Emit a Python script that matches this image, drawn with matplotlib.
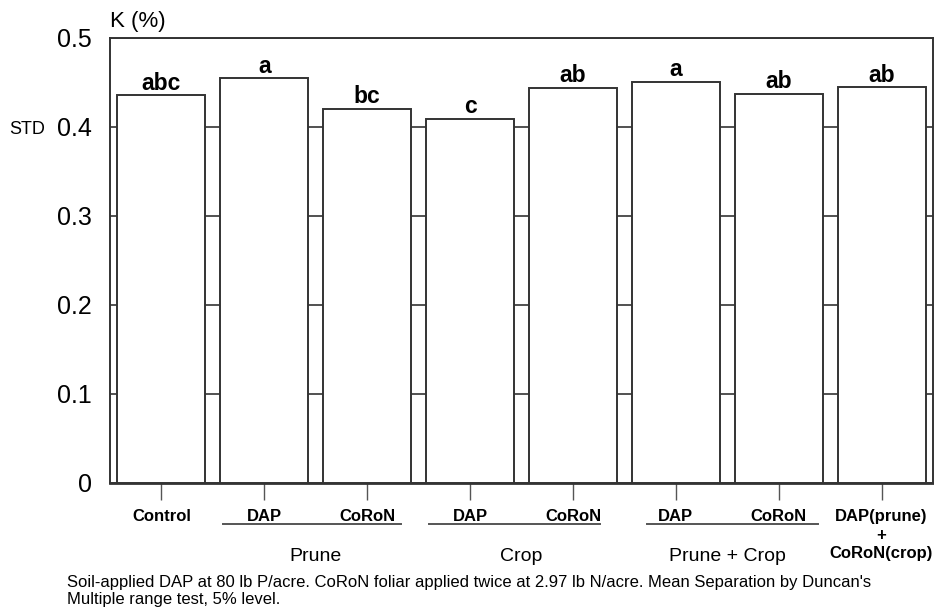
import matplotlib
matplotlib.use("Agg")
import matplotlib.pyplot as plt
from matplotlib.transforms import blended_transform_factory

plt.rcParams['font.family'] = ['Liberation Sans', 'DejaVu Sans']

# Treatment data: leaf potassium, %
tick_labels = ["Control", "DAP", "CoRoN", "DAP", "CoRoN", "DAP", "CoRoN",
               "DAP(prune)\n+\nCoRoN(crop)"]
k_values = [0.435, 0.454, 0.420, 0.409, 0.443, 0.450, 0.437, 0.444]
letters = ["abc", "a", "bc", "c", "ab", "a", "ab", "ab"]
group_names = ["Prune", "Crop", "Prune + Crop"]
group_members = [(1, 2), (3, 4), (5, 6)]
y_ticks = [0, 0.1, 0.2, 0.3, 0.4, 0.5]
y_tick_labels = ["0", "0.1", "0.2", "0.3", "0.4", "0.5"]
footnote_lines = [
    "Soil-applied DAP at 80 lb P/acre. CoRoN foliar applied twice at 2.97 lb N/acre. "
    "Mean Separation by Duncan's",
    "Multiple range test, 5% level.",
]

W, H = 934, 613
fig = plt.figure(figsize=(W / 100, H / 100), dpi=100)
ax = fig.add_axes([110 / W, (H - 483) / H, (933 - 110) / W, (483 - 37.5) / H])

edge = "#333333"
x = list(range(len(k_values)))
ax.bar(x, k_values, width=0.855, color="white", edgecolor=edge, linewidth=1.4, zorder=3)

ax.set_xlim(-0.5, len(k_values) - 0.5)
ax.set_ylim(0, 0.5)
ax.set_yticks(y_ticks)
ax.set_yticklabels(y_tick_labels, fontsize=18)
ax.tick_params(axis="y", length=0, pad=13)
ax.yaxis.grid(True, color=edge, linewidth=1.2, zorder=1)
ax.set_axisbelow(True)

ax.set_xticks(x)
ax.set_xticklabels([""] * len(x))
ax.tick_params(axis="x", direction="out", length=12, width=1, color="#555555")

for s in ax.spines.values():
    s.set_color(edge)
    s.set_linewidth(1.4)
ax.spines["bottom"].set_linewidth(2)

# significance letters above bars
for xi, v, lt in zip(x, k_values, letters):
    ax.text(xi, v + 0.001, lt, ha="center", va="bottom", fontsize=16.5,
            fontweight="bold")

blend = blended_transform_factory(ax.transData, fig.transFigure)
fy = lambda py: 1 - py / H

# treatment labels beneath the axis
for xi, lab in zip(x, tick_labels):
    parts = lab.split("\n")
    baselines = [521, 540, 558][:len(parts)]
    for part, py in zip(parts, baselines):
        ax.text(xi, fy(py), part, transform=blend, ha="center", va="baseline",
                fontsize=12, fontweight="bold")

# group underlines and names
underline_ext = [(0.40, 0.33), (0.40, 0.26), (0.28, 0.38)]
for name, (a, b), (l, r) in zip(group_names, group_members, underline_ext):
    ax.plot([a - l, b + r], [fy(523.5), fy(523.5)], color="#555555",
            linewidth=1.4, transform=blend, clip_on=False)
    ax.text((a + b) / 2, fy(561), name, ha="center", va="baseline", fontsize=14,
            transform=blend)

fig.text(110 / W, fy(27), "K (%)", ha="left", va="baseline", fontsize=16)
fig.text(9 / W, fy(130), "STD", ha="left", va="center", fontsize=13)
for line, py in zip(footnote_lines, [587, 604]):
    fig.text(67 / W, fy(py), line, ha="left", va="baseline", fontsize=12)

fig.savefig("out.png", dpi=100)
